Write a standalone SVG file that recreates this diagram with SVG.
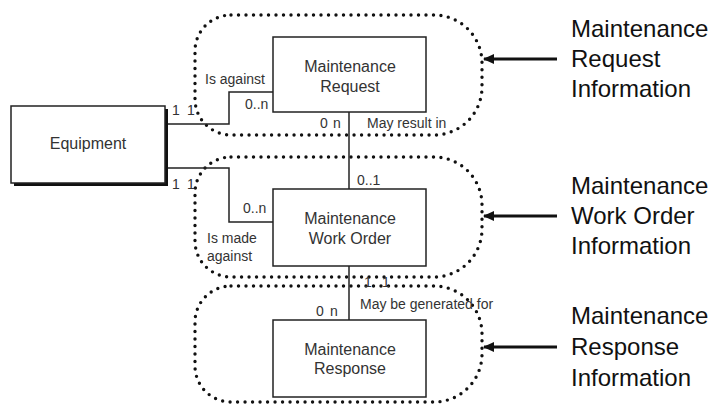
<svg xmlns="http://www.w3.org/2000/svg" width="718" height="406" viewBox="0 0 718 406">
<style>
.box{fill:#fff;stroke:#222;stroke-width:1.5}
.bt{font-family:"Liberation Sans",Arial,sans-serif;font-size:16px;fill:#333;text-anchor:middle}
.lb{font-family:"Liberation Sans",Arial,sans-serif;font-size:14px;fill:#333}
.big{font-family:"Liberation Sans",Arial,sans-serif;font-size:24px;fill:#111}
.con{fill:none;stroke:#222;stroke-width:1.5}
.dot{fill:none;stroke:#111;stroke-width:3.4;stroke-linecap:round;stroke-dasharray:0 7.5}
.arr{stroke:#111;stroke-width:3;marker-end:url(#ah)}
</style>
<defs>
<marker id="ah" markerWidth="12" markerHeight="10" refX="10" refY="5" orient="auto" markerUnits="userSpaceOnUse">
<path d="M0,0 L11,5 L0,10 Z" fill="#111"/>
</marker>
</defs>
<rect width="718" height="406" fill="#fff"/>
<g id="regions">
<path class="dot" d="M231,15 H434 A48,48 0 0 1 482,63 V87 A48,48 0 0 1 434,135 H231 A36,36 0 0 1 195,99 V51 A36,36 0 0 1 231,15 Z"/>
<path class="dot" d="M231,157 H434 A48,48 0 0 1 482,205 V229 A48,48 0 0 1 434,277 H231 A36,36 0 0 1 195,241 V193 A36,36 0 0 1 231,157 Z"/>
<path class="dot" d="M231,286 H434 A48,48 0 0 1 482,334 V354 A48,48 0 0 1 434,402 H231 A36,36 0 0 1 195,366 V322 A36,36 0 0 1 231,286 Z"/>
</g>
<g id="connectors">
<polyline class="con" points="165,124 229,124 229,92 273,92"/>
<polyline class="con" points="165,168 229,168 229,222 273,222"/>
<line class="con" x1="349" y1="112" x2="349" y2="189"/>
<line class="con" x1="349" y1="266" x2="349" y2="320"/>
<line class="arr" x1="557" y1="59" x2="484" y2="59"/>
<line class="arr" x1="557" y1="216" x2="484" y2="216"/>
<line class="arr" x1="557" y1="347" x2="484" y2="347"/>
</g>
<g id="equipment">
<rect x="14" y="109" width="154" height="77" fill="#111"/>
<rect class="box" x="11" y="106" width="154" height="77"/>
<text class="bt" x="88" y="149">Equipment</text>
</g>
<g id="request">
<rect class="box" x="273" y="37" width="153" height="75"/>
<text class="bt" x="350" y="72">Maintenance</text>
<text class="bt" x="350" y="92">Request</text>
</g>
<g id="workorder">
<rect class="box" x="273" y="189" width="153" height="77"/>
<text class="bt" x="350" y="224">Maintenance</text>
<text class="bt" x="350" y="244">Work Order</text>
</g>
<g id="response">
<rect class="box" x="273" y="320" width="153" height="77"/>
<text class="bt" x="350" y="355">Maintenance</text>
<text class="bt" x="350" y="374">Response</text>
</g>
<g id="labels">
<text class="lb" x="172" y="115">1</text>
<text class="lb" x="187" y="115">1</text>
<text class="lb" x="172" y="189">1</text>
<text class="lb" x="187" y="189">1</text>
<text class="lb" x="205" y="84">Is against</text>
<text class="lb" x="245" y="109">0..n</text>
<text class="lb" x="320" y="128">0</text>
<text class="lb" x="333" y="128">n</text>
<text class="lb" x="367" y="128">May result in</text>
<text class="lb" x="357" y="185">0..1</text>
<text class="lb" x="243" y="213">0..n</text>
<text class="lb" x="207" y="243">Is made</text>
<text class="lb" x="207" y="261">against</text>
<text class="lb" x="364" y="287">1</text>
<text class="lb" x="382" y="287">1</text>
<text class="lb" x="360" y="309">May be generated for</text>
<text class="lb" x="316" y="316">0</text>
<text class="lb" x="330" y="316">n</text>
</g>
<g id="legend">
<text class="big" x="571" y="37">Maintenance</text>
<text class="big" x="571" y="67">Request</text>
<text class="big" x="571" y="97">Information</text>
<text class="big" x="571" y="194">Maintenance</text>
<text class="big" x="571" y="224">Work Order</text>
<text class="big" x="571" y="254">Information</text>
<text class="big" x="571" y="324">Maintenance</text>
<text class="big" x="571" y="355">Response</text>
<text class="big" x="571" y="386">Information</text>
</g>
</svg>
